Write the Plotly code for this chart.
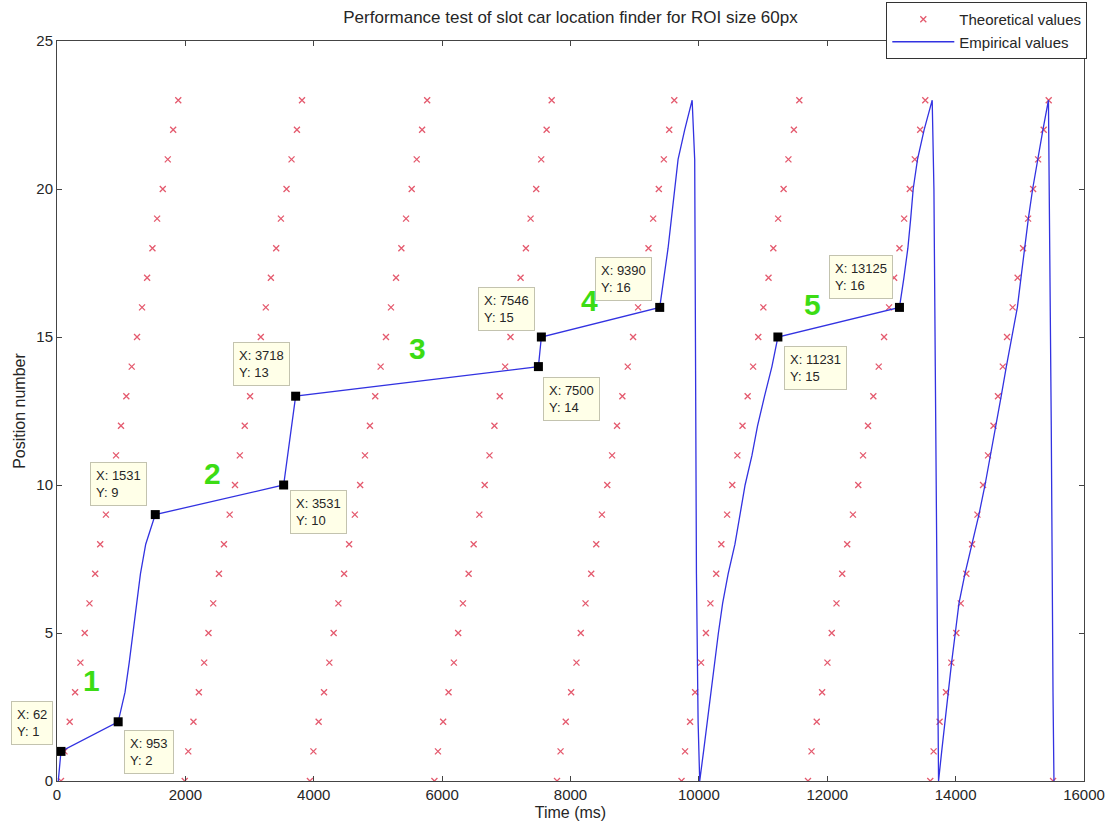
import plotly.graph_objects as go

# ---------------- data ----------------
positions = list(range(24))

theo_col1 = [62, 117, 198, 282, 365, 432, 506, 595, 673, 762, 845, 920, 997, 1080, 1164, 1247, 1325, 1404, 1487, 1560, 1648, 1726, 1810, 1889]
theo_col2 = [1990, 2045, 2126, 2210, 2293, 2360, 2434, 2523, 2601, 2690, 2773, 2848, 2925, 3008, 3092, 3175, 3253, 3332, 3415, 3488, 3576, 3654, 3738, 3817]
theo_col3 = [3940, 3995, 4076, 4160, 4243, 4310, 4384, 4473, 4551, 4640, 4723, 4798, 4875, 4958, 5042, 5125, 5203, 5282, 5365, 5438, 5526, 5604, 5688, 5767]
theo_col4 = [5880, 5935, 6016, 6100, 6183, 6250, 6324, 6413, 6491, 6580, 6663, 6738, 6815, 6898, 6982, 7065, 7143, 7222, 7305, 7378, 7466, 7544, 7628, 7707]
theo_col5 = [7790, 7845, 7926, 8010, 8093, 8160, 8234, 8323, 8401, 8490, 8573, 8648, 8725, 8808, 8892, 8975, 9053, 9132, 9215, 9288, 9376, 9454, 9538, 9617]
theo_col6 = [9730, 9785, 9863, 9941, 10034, 10110, 10180, 10270, 10350, 10440, 10520, 10600, 10680, 10760, 10845, 10925, 11005, 11085, 11160, 11235, 11320, 11395, 11480, 11565]
theo_col7 = [11700, 11755, 11836, 11920, 12003, 12070, 12144, 12233, 12311, 12400, 12483, 12558, 12635, 12718, 12802, 12885, 12963, 13042, 13125, 13198, 13286, 13364, 13448, 13527]
theo_col8 = [13605, 13657, 13750, 13850, 13933, 14011, 14080, 14167, 14256, 14340, 14427, 14505, 14590, 14660, 14735, 14801, 14888, 14966, 15051, 15129, 15207, 15285, 15372, 15450]
theo_col9 = [15518]

emp_time = [20, 62, 953, 1060, 1125, 1183, 1241, 1300, 1382, 1531, 3531, 3590, 3650, 3718,
            7500, 7546, 9390, 9458, 9520, 9572, 9624, 9676, 9779, 9895,
            9935, 9951, 9962, 9988, 10013,
            10073, 10128, 10185, 10242, 10304, 10370, 10456, 10562, 10643, 10720, 10827, 10914, 11023, 11138, 11231,
            13125, 13194, 13256, 13300, 13339, 13406, 13509, 13635,
            13662, 13683, 13698, 13725, 13734,
            13783, 13831, 13880, 13937, 13995, 14052, 14145, 14252, 14363, 14458, 14544, 14630, 14710, 14790, 14876,
            14962, 15018, 15071, 15133, 15200, 15277, 15360, 15446,
            15460, 15490, 15517, 15532]
emp_pos = [0, 1, 2, 3, 4, 5, 6, 7, 8, 9, 10, 11, 12, 13,
           14, 15, 16, 17, 18, 19, 20, 21, 22, 23,
           21, 14, 7, 2, 0,
           1, 2, 3, 4, 5, 6, 7, 8, 9, 10, 11, 12, 13, 14, 15,
           16, 17, 18, 19, 20, 21, 22, 23,
           20, 14, 9, 2, 0,
           1, 2, 3, 4, 5, 6, 7, 8, 9, 10, 11, 12, 13, 14, 15,
           16, 17, 18, 19, 20, 21, 22, 23,
           20, 12, 3, 0]

tip_x = [62, 953, 1531, 3531, 3718, 7500, 7546, 9390, 11231, 13125]
tip_y = [1, 2, 9, 10, 13, 14, 15, 16, 15, 16]
tip_labels = ["X: 62<br>Y: 1", "X: 953<br>Y: 2", "X: 1531<br>Y: 9", "X: 3531<br>Y: 10",
              "X: 3718<br>Y: 13", "X: 7500<br>Y: 14", "X: 7546<br>Y: 15", "X: 9390<br>Y: 16",
              "X: 11231<br>Y: 15", "X: 13125<br>Y: 16"]
# box placement relative to the tip marker: (xanchor, yanchor, xshift, yshift)
tip_place = [("right", "bottom", -8, 6), ("left", "top", 6, -8), ("right", "bottom", -8, 9),
             ("left", "top", 6, -5), ("right", "bottom", -6, 10), ("left", "top", 5, -10),
             ("right", "bottom", -6, 6), ("right", "bottom", -8, 6), ("left", "top", 6, -9),
             ("right", "bottom", -6, 8)]

seg_labels = ["1", "2", "3", "4", "5"]
seg_label_x = [538, 2425, 5621, 8303, 11765]
seg_label_y = [3.4, 10.4, 14.6, 16.25, 16.1]

x_ticks = [0, 2000, 4000, 6000, 8000, 10000, 12000, 14000, 16000]
x_tick_text = ["0", "2000", "4000", "6000", "8000", "10000", "12000", "14000", "16000"]
y_ticks = [0, 5, 10, 15, 20, 25]

# ---------------- figure ----------------
theo_x = theo_col1 + theo_col2 + theo_col3 + theo_col4 + theo_col5 + theo_col6 + theo_col7 + theo_col8 + theo_col9
theo_y = positions * 8 + [0]

FONT = "Liberation Sans, Arial, sans-serif"
TXT = "#262626"

fig = go.Figure()
fig.add_trace(go.Scatter(
    x=theo_x, y=theo_y, mode="markers", name="Theoretical values",
    marker=dict(symbol="x-thin", size=6, line=dict(width=1.3, color="rgb(228,90,110)"),
                color="rgb(228,90,110)"),
))
fig.add_trace(go.Scatter(
    x=emp_time, y=emp_pos, mode="lines", name="Empirical values",
    line=dict(color="rgb(50,50,225)", width=1.3),
))
fig.add_trace(go.Scatter(
    x=tip_x, y=tip_y, mode="markers", showlegend=False,
    marker=dict(symbol="square", size=9, color="black"),
))

annotations = []
for x, y, t, (xa, ya, xs, ys) in zip(tip_x, tip_y, tip_labels, tip_place):
    annotations.append(dict(
        x=x, y=y, xref="x", yref="y", text=t, showarrow=False, align="left",
        xanchor=xa, yanchor=ya, xshift=xs, yshift=ys,
        font=dict(family=FONT, size=13, color=TXT),
        bgcolor="rgb(255,255,232)", bordercolor="rgb(195,195,175)", borderwidth=1, borderpad=5,
    ))
for t, x, y in zip(seg_labels, seg_label_x, seg_label_y):
    annotations.append(dict(
        x=x, y=y, xref="x", yref="y", text="<b>" + t + "</b>", showarrow=False,
        font=dict(family=FONT, size=30, color="rgb(60,220,20)"),
    ))

fig.update_layout(
    width=1114, height=829,
    margin=dict(l=57, r=30, t=41, b=48, autoexpand=False),
    paper_bgcolor="white", plot_bgcolor="white",
    font=dict(family=FONT, size=15, color=TXT),
    title=dict(text="Performance test of slot car location finder for ROI size 60px",
               x=0.5, xref="paper", xanchor="center", y=0.9795, yanchor="middle",
               font=dict(family=FONT, size=17, color=TXT)),
    showlegend=True,
    legend=dict(x=0.8075, y=1.0527, xanchor="left", yanchor="top",
                bgcolor="white", bordercolor="#333", borderwidth=1,
                font=dict(family=FONT, size=15, color=TXT),
                tracegroupgap=0, itemwidth=62),
    annotations=annotations,
)
fig.update_xaxes(
    range=[0, 16000], tickvals=x_ticks, ticktext=x_tick_text, ticks="inside", ticklen=5, tickcolor="#444",
    showline=True, linecolor="#444", linewidth=1, mirror="ticks", showgrid=False, zeroline=False,
    title=dict(text="Time (ms)", font=dict(family=FONT, size=16, color=TXT), standoff=4),
    tickfont=dict(family=FONT, size=15, color=TXT), automargin=False,
)
fig.update_yaxes(
    range=[0, 25], tickvals=y_ticks, ticks="inside", ticklen=5, tickcolor="#444",
    showline=True, linecolor="#444", linewidth=1, mirror="ticks", showgrid=False, zeroline=False,
    title=dict(text="Position number", font=dict(family=FONT, size=16, color=TXT), standoff=6),
    tickfont=dict(family=FONT, size=15, color=TXT), automargin=False,
)

fig.write_html("out.html", config={"displayModeBar": False},
               post_script="document.body.style.margin='0';")
